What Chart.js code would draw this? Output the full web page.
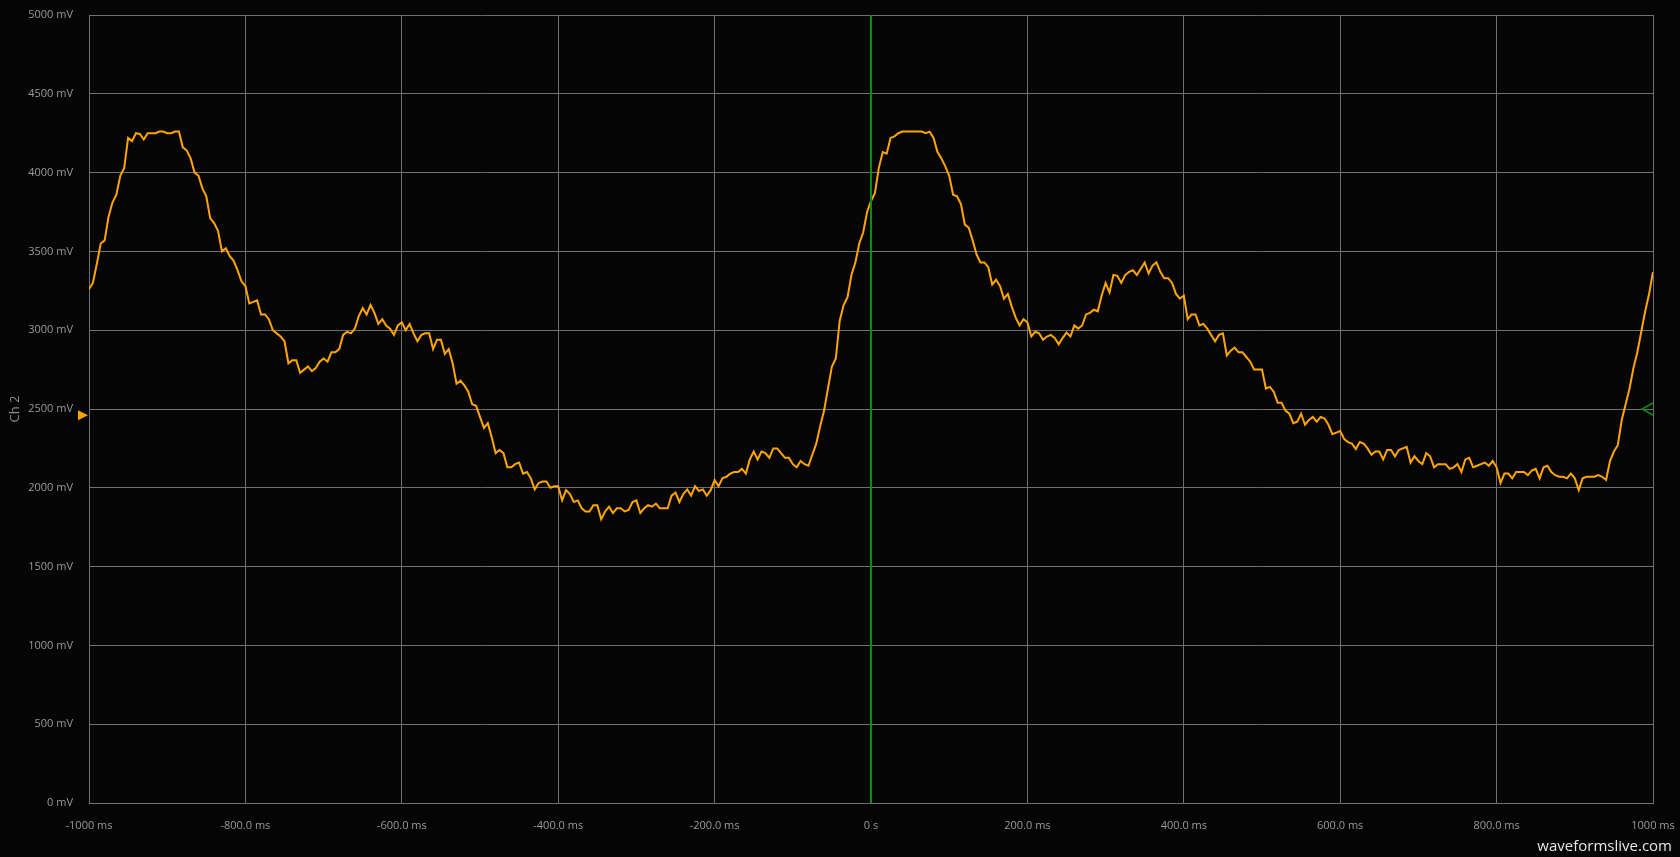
<!DOCTYPE html>
<html>
<head>
<meta charset="utf-8">
<script src="https://cdn.jsdelivr.net/npm/chart.js@4.4.1/dist/chart.umd.min.js"></script>
<style>
  html, body { margin: 0; padding: 0; background: #050505; overflow: hidden; }
  #wrap { position: relative; width: 1680px; height: 857px; }
  #scope { display: block; }
  #brand {
    position: absolute; right: 8px; top: 838px;
    font-family: "Open Sans", sans-serif; font-size: 15px; line-height: 15px;
    color: #e6e6e6;
  }
</style>
</head>
<body>
<div id="wrap">
  <canvas id="scope" width="1680" height="857" style="width:1680px;height:857px"></canvas>
  <div id="brand">waveformslive.com</div>
</div>
<script>
// capture: Ch 2, 5 ms per sample, -1000 ms .. +1000 ms
const sampleStartMs = -1000;
const sampleStepMs = 5;

// -1000 .. -505 ms
const ch2Seg1 = [
  3260, 3300, 3420, 3550, 3570, 3720, 3810, 3860, 3980, 4030,
  4220, 4200, 4250, 4245, 4210, 4250, 4250, 4250, 4260, 4260,
  4250, 4250, 4260, 4260, 4160, 4140, 4090, 4000, 3980, 3900,
  3850, 3710, 3680, 3630, 3500, 3520, 3470, 3440, 3380, 3310,
  3280, 3170, 3180, 3190, 3100, 3100, 3070, 3000, 2980, 2960,
  2930, 2790, 2810, 2810, 2730, 2750, 2770, 2740, 2760, 2800,
  2820, 2800, 2860, 2860, 2880, 2970, 2990, 2980, 3010, 3090,
  3140, 3100, 3160, 3110, 3040, 3070, 3030, 3010, 2970, 3030,
  3050, 3000, 3040, 2980, 2930, 2970, 2980, 2980, 2880, 2940,
  2940, 2850, 2880, 2790, 2660, 2680, 2650, 2610, 2530, 2520
];
// -500 .. -5 ms
const ch2Seg2 = [
  2450, 2380, 2410, 2320, 2220, 2240, 2220, 2130, 2130, 2150,
  2160, 2090, 2100, 2060, 1990, 2030, 2040, 2040, 2000, 2010,
  2010, 1920, 1985, 1960, 1910, 1920, 1870, 1850, 1850, 1890,
  1890, 1800, 1850, 1880, 1840, 1870, 1870, 1850, 1860, 1910,
  1920, 1840, 1870, 1890, 1880, 1900, 1870, 1870, 1870, 1950,
  1970, 1910, 1960, 1990, 1950, 2010, 1980, 1990, 1950, 1985,
  2050, 2010, 2060, 2070, 2090, 2100, 2100, 2120, 2090, 2180,
  2230, 2180, 2230, 2220, 2190, 2250, 2250, 2220, 2190, 2190,
  2150, 2130, 2170, 2150, 2140, 2210, 2280, 2390, 2490, 2630,
  2770, 2820, 3060, 3160, 3210, 3350, 3430, 3550, 3620, 3750
];
// 0 .. 495 ms
const ch2Seg3 = [
  3820, 3870, 4030, 4130, 4120, 4220, 4230, 4250, 4260, 4260,
  4260, 4260, 4260, 4260, 4250, 4260, 4220, 4130, 4090, 4040,
  3980, 3860, 3850, 3800, 3670, 3650, 3570, 3480, 3430, 3430,
  3400, 3290, 3320, 3280, 3200, 3230, 3150, 3080, 3030, 3070,
  3050, 2960, 2990, 2980, 2940, 2960, 2970, 2950, 2910, 2950,
  2985, 2960, 3030, 3010, 3030, 3100, 3110, 3130, 3120, 3220,
  3300, 3240, 3350, 3345, 3300, 3350, 3370, 3380, 3350, 3390,
  3430, 3360, 3410, 3430, 3370, 3330, 3330, 3300, 3230, 3200,
  3220, 3070, 3100, 3100, 3030, 3040, 3010, 2970, 2930, 2970,
  2980, 2840, 2870, 2890, 2860, 2860, 2830, 2800, 2750, 2750
];
// 500 .. 1000 ms
const ch2Seg4 = [
  2750, 2630, 2640, 2610, 2540, 2540, 2490, 2470, 2410, 2420,
  2470, 2400, 2430, 2450, 2420, 2450, 2440, 2400, 2340, 2350,
  2360, 2310, 2290, 2280, 2245, 2290, 2280, 2250, 2210, 2230,
  2230, 2180, 2240, 2240, 2200, 2240, 2250, 2260, 2160, 2200,
  2170, 2150, 2220, 2200, 2130, 2150, 2150, 2150, 2120, 2130,
  2150, 2100, 2180, 2190, 2130, 2140, 2150, 2160, 2140, 2170,
  2130, 2030, 2090, 2090, 2060, 2100, 2100, 2100, 2080, 2110,
  2120, 2060, 2130, 2140, 2100, 2080, 2070, 2070, 2060, 2090,
  2060, 1985, 2060, 2070, 2070, 2070, 2080, 2070, 2050, 2170,
  2230, 2270, 2430, 2530, 2630, 2760, 2860, 2990, 3120, 3230,
  3370
];

const xTickLabels = ["-1000 ms", "-800.0 ms", "-600.0 ms", "-400.0 ms", "-200.0 ms", "0 s",
  "200.0 ms", "400.0 ms", "600.0 ms", "800.0 ms", "1000 ms"];
const yTickLabels = ["0 mV", "500 mV", "1000 mV", "1500 mV", "2000 mV", "2500 mV",
  "3000 mV", "3500 mV", "4000 mV", "4500 mV", "5000 mV"];

const triggerTimeMs = 0;
const triggerLevelMv = 2500;
const ch2OffsetMv = 2460;

const ch2Values = ch2Seg1.concat(ch2Seg2, ch2Seg3, ch2Seg4);
const ch2Points = ch2Values.map((v, i) => ({ x: sampleStartMs + i * sampleStepMs, y: v }));

const gridGrey = "#707070";
const textGrey = "#9a9a9a";
const trigGreen = "#0c8c0c";

// trigger line + level / offset markers
const scopeMarkers = {
  id: "scopeMarkers",
  afterDatasetsDraw(chart) {
    const { ctx, chartArea, scales } = chart;
    ctx.save();
    const xt = scales.x.getPixelForValue(triggerTimeMs);
    ctx.strokeStyle = trigGreen;
    ctx.lineWidth = 2;
    ctx.beginPath();
    ctx.moveTo(xt, chartArea.top);
    ctx.lineTo(xt, chartArea.bottom);
    ctx.stroke();

    const yo = scales.y.getPixelForValue(ch2OffsetMv);
    ctx.fillStyle = "#ffa500";
    ctx.beginPath();
    ctx.moveTo(chartArea.left - 11, yo - 5);
    ctx.lineTo(chartArea.left - 1, yo);
    ctx.lineTo(chartArea.left - 11, yo + 5);
    ctx.closePath();
    ctx.fill();

    const yl = scales.y.getPixelForValue(triggerLevelMv);
    ctx.lineWidth = 1.5;
    ctx.beginPath();
    ctx.moveTo(chartArea.right, yl - 6);
    ctx.lineTo(chartArea.right - 11, yl);
    ctx.lineTo(chartArea.right, yl + 6);
    ctx.stroke();
    ctx.restore();
  }
};

new Chart(document.getElementById("scope").getContext("2d"), {
  type: "line",
  data: {
    datasets: [{
      label: "Ch 2",
      data: ch2Points,
      borderColor: "#ffa500",
      borderWidth: 2,
      pointRadius: 0,
      tension: 0,
      fill: false
    }]
  },
  options: {
    responsive: false,
    animation: false,
    events: [],
    layout: { padding: { top: 15, right: 27, bottom: 0, left: 0 } },
    plugins: { legend: { display: false }, tooltip: { enabled: false } },
    scales: {
      x: {
        type: "linear",
        min: -1000,
        max: 1000,
        afterBuildTicks: (s) => { s.ticks = xTickLabels.map((_, i) => ({ value: -1000 + i * 200 })); },
        afterFit: (s) => { s.height = 54; s.paddingLeft = 0; s.paddingRight = 0; },
        grid: { color: gridGrey, lineWidth: 1, drawTicks: false },
        border: { color: gridGrey },
        ticks: {
          color: textGrey,
          padding: 16,
          maxRotation: 0,
          autoSkip: false,
          font: { family: "'Open Sans', sans-serif", size: 11 },
          callback: (v, i) => xTickLabels[i]
        }
      },
      y: {
        min: 0,
        max: 5000,
        afterBuildTicks: (s) => { s.ticks = yTickLabels.map((_, i) => ({ value: i * 500 })); },
        afterFit: (s) => { s.width = 89; s.paddingTop = 0; s.paddingBottom = 0; },
        grid: { color: gridGrey, lineWidth: 1, drawTicks: false },
        border: { color: gridGrey },
        title: {
          display: true,
          text: "Ch 2",
          color: "#8a8a8a",
          padding: { top: 7, bottom: 0 },
          font: { family: "'Open Sans', sans-serif", size: 13 }
        },
        ticks: {
          color: textGrey,
          padding: 16,
          autoSkip: false,
          font: { family: "'Open Sans', sans-serif", size: 11 },
          callback: (v, i) => yTickLabels[i]
        }
      }
    }
  },
  plugins: [scopeMarkers]
});
</script>
</body>
</html>
